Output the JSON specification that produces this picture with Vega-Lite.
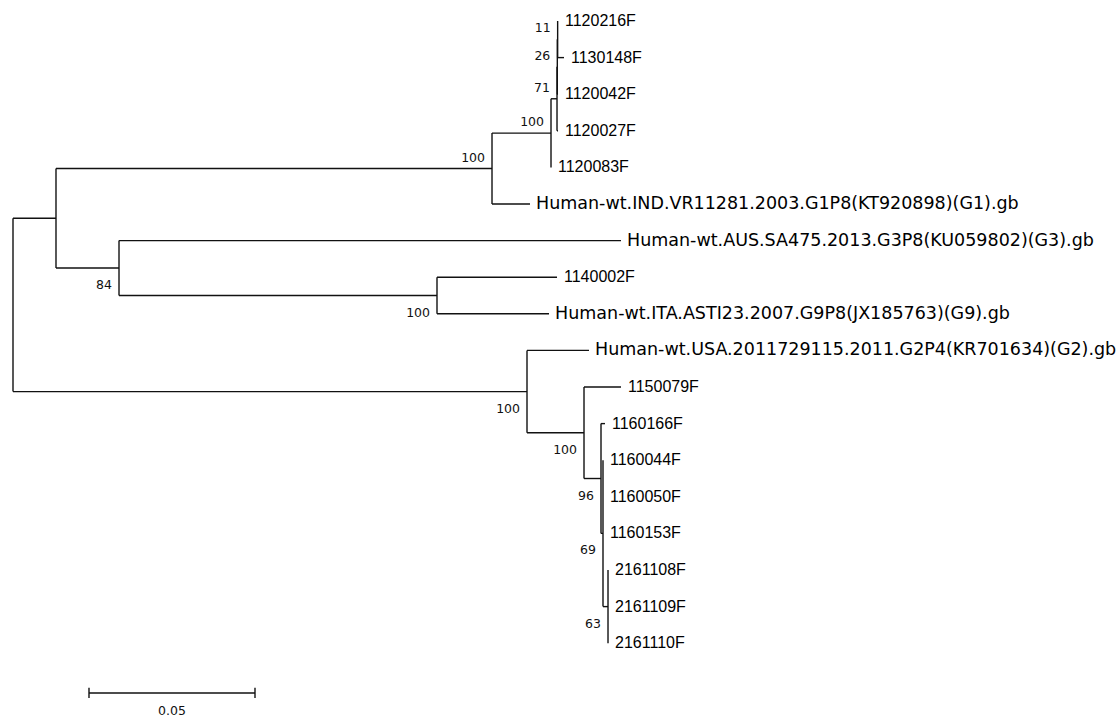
{
  "$schema": "https://vega.github.io/schema/vega-lite/v6.json",
  "width": 1119,
  "height": 717,
  "autosize": "none",
  "padding": 0,
  "background": "white",
  "config": {"view": {"stroke": null}},
  "datasets": {
    "edges": [
      {"x": 0, "x2": 0, "y": 5.39, "y2": 10.125},
      {"x": 0, "x2": 0.01295, "y": 5.39, "y2": 5.39},
      {"x": 0, "x2": 0.15482, "y": 10.125, "y2": 10.125},
      {"x": 0.01295, "x2": 0.01295, "y": 4.03, "y2": 6.75},
      {"x": 0.01295, "x2": 0.14428, "y": 4.03, "y2": 4.03},
      {"x": 0.01295, "x2": 0.03193, "y": 6.75, "y2": 6.75},
      {"x": 0.14428, "x2": 0.14428, "y": 3.0625, "y2": 5},
      {"x": 0.14428, "x2": 0.16205, "y": 3.0625, "y2": 3.0625},
      {"x": 0.14428, "x2": 0.15572, "y": 5, "y2": 5},
      {"x": 0.16205, "x2": 0.16205, "y": 2.125, "y2": 4},
      {"x": 0.16205, "x2": 0.16386, "y": 2.125, "y2": 2.125},
      {"x": 0.16386, "x2": 0.16386, "y": 1.25, "y2": 3},
      {"x": 0.16386, "x2": 0.16416, "y": 3, "y2": 3},
      {"x": 0.16395, "x2": 0.16395, "y": 0.5, "y2": 2},
      {"x": 0.16395, "x2": 0.16416, "y": 2, "y2": 2},
      {"x": 0.16405, "x2": 0.16405, "y": 0, "y2": 1},
      {"x": 0.16405, "x2": 0.16596, "y": 1, "y2": 1},
      {"x": 0.03193, "x2": 0.03193, "y": 6, "y2": 7.5},
      {"x": 0.03193, "x2": 0.18313, "y": 6, "y2": 6},
      {"x": 0.03193, "x2": 0.12771, "y": 7.5, "y2": 7.5},
      {"x": 0.12771, "x2": 0.12771, "y": 7, "y2": 8},
      {"x": 0.12771, "x2": 0.16386, "y": 7, "y2": 7},
      {"x": 0.12771, "x2": 0.16145, "y": 8, "y2": 8},
      {"x": 0.15482, "x2": 0.15482, "y": 9, "y2": 11.25},
      {"x": 0.15482, "x2": 0.17349, "y": 9, "y2": 9},
      {"x": 0.15482, "x2": 0.17199, "y": 11.25, "y2": 11.25},
      {"x": 0.17199, "x2": 0.17199, "y": 10, "y2": 12.5},
      {"x": 0.17199, "x2": 0.18313, "y": 10, "y2": 10},
      {"x": 0.17199, "x2": 0.17711, "y": 12.5, "y2": 12.5},
      {"x": 0.17711, "x2": 0.17711, "y": 11, "y2": 14},
      {"x": 0.17711, "x2": 0.17831, "y": 11, "y2": 11},
      {"x": 0.17711, "x2": 0.17771, "y": 14, "y2": 14},
      {"x": 0.17771, "x2": 0.17771, "y": 12, "y2": 16},
      {"x": 0.17771, "x2": 0.17922, "y": 16, "y2": 16},
      {"x": 0.17922, "x2": 0.17922, "y": 15, "y2": 17}
    ],
    "leaves": [
      {"name": "1120216F", "x": 0.16416, "y": 0},
      {"name": "1130148F", "x": 0.16596, "y": 1},
      {"name": "1120042F", "x": 0.16416, "y": 2},
      {"name": "1120027F", "x": 0.16416, "y": 3},
      {"name": "1120083F", "x": 0.16205, "y": 4},
      {"name": "Human-wt.IND.VR11281.2003.G1P8(KT920898)(G1).gb", "x": 0.15572, "y": 5},
      {"name": "Human-wt.AUS.SA475.2013.G3P8(KU059802)(G3).gb", "x": 0.18313, "y": 6},
      {"name": "1140002F", "x": 0.16386, "y": 7},
      {"name": "Human-wt.ITA.ASTI23.2007.G9P8(JX185763)(G9).gb", "x": 0.16145, "y": 8},
      {"name": "Human-wt.USA.2011729115.2011.G2P4(KR701634)(G2).gb", "x": 0.17349, "y": 9},
      {"name": "1150079F", "x": 0.18313, "y": 10},
      {"name": "1160166F", "x": 0.17831, "y": 11},
      {"name": "1160044F", "x": 0.17771, "y": 12},
      {"name": "1160050F", "x": 0.17771, "y": 13},
      {"name": "1160153F", "x": 0.17771, "y": 14},
      {"name": "2161108F", "x": 0.17922, "y": 15},
      {"name": "2161109F", "x": 0.17922, "y": 16},
      {"name": "2161110F", "x": 0.17922, "y": 17}
    ],
    "support": [
      {"value": "11", "x": 0.16405, "y": 0.5, "side": "above"},
      {"value": "26", "x": 0.16395, "y": 1.25, "side": "above"},
      {"value": "71", "x": 0.16386, "y": 2.125, "side": "above"},
      {"value": "100", "x": 0.16205, "y": 3.0625, "side": "above"},
      {"value": "100", "x": 0.14428, "y": 4.03, "side": "above"},
      {"value": "84", "x": 0.03193, "y": 6.75, "side": "below"},
      {"value": "100", "x": 0.12771, "y": 7.5, "side": "below"},
      {"value": "100", "x": 0.15482, "y": 10.125, "side": "below"},
      {"value": "100", "x": 0.17199, "y": 11.25, "side": "below"},
      {"value": "96", "x": 0.17711, "y": 12.5, "side": "below"},
      {"value": "69", "x": 0.17771, "y": 14, "side": "below"},
      {"value": "63", "x": 0.17922, "y": 16, "side": "below"}
    ],
    "scalebar": [
      {"x": 0.02289, "x2": 0.07289, "y": 18.36, "y2": 18.36},
      {"x": 0.02289, "x2": 0.02289, "y": 18.22, "y2": 18.5},
      {"x": 0.07289, "x2": 0.07289, "y": 18.22, "y2": 18.5}
    ],
    "scalelabel": [
      {"label": "0.05", "x": 0.04789, "y": 18.85}
    ]
  },
  "layer": [
    {
      "data": {"name": "edges"},
      "mark": {"type": "rule", "color": "#111111", "strokeWidth": 1.4},
      "encoding": {
        "x": {"field": "x", "type": "quantitative", "scale": {"domain": [-0.0039157, 0.333133], "nice": false, "zero": false}, "axis": null},
        "x2": {"field": "x2"},
        "y": {"field": "y", "type": "quantitative", "scale": {"domain": [-0.5738, 19.016], "nice": false, "zero": false, "reverse": true}, "axis": null},
        "y2": {"field": "y2"}
      }
    },
    {
      "data": {"name": "scalebar"},
      "mark": {"type": "rule", "color": "#111111", "strokeWidth": 1.4},
      "encoding": {
        "x": {"field": "x", "type": "quantitative"},
        "x2": {"field": "x2"},
        "y": {"field": "y", "type": "quantitative"},
        "y2": {"field": "y2"}
      }
    },
    {
      "data": {"name": "leaves"},
      "transform": [{"filter": "indexof(datum.name, 'Human') < 0"}],
      "mark": {"type": "text", "align": "left", "baseline": "middle", "dx": 7, "font": "Liberation Sans", "fontSize": 16, "color": "#000000"},
      "encoding": {
        "x": {"field": "x", "type": "quantitative"},
        "y": {"field": "y", "type": "quantitative"},
        "text": {"field": "name"}
      }
    },
    {
      "data": {"name": "leaves"},
      "transform": [{"filter": "indexof(datum.name, 'Human') >= 0"}],
      "mark": {"type": "text", "align": "left", "baseline": "middle", "dx": 6, "font": "DejaVu Sans", "fontSize": 17.5, "color": "#000000"},
      "encoding": {
        "x": {"field": "x", "type": "quantitative"},
        "y": {"field": "y", "type": "quantitative"},
        "text": {"field": "name"}
      }
    },
    {
      "data": {"name": "support"},
      "transform": [{"filter": "datum.side === 'above'"}],
      "mark": {"type": "text", "align": "right", "baseline": "middle", "dx": -7, "dy": -11, "font": "DejaVu Sans", "fontSize": 12.5, "color": "#111111"},
      "encoding": {
        "x": {"field": "x", "type": "quantitative"},
        "y": {"field": "y", "type": "quantitative"},
        "text": {"field": "value"}
      }
    },
    {
      "data": {"name": "support"},
      "transform": [{"filter": "datum.side === 'below'"}],
      "mark": {"type": "text", "align": "right", "baseline": "middle", "dx": -7, "dy": 17, "font": "DejaVu Sans", "fontSize": 12.5, "color": "#111111"},
      "encoding": {
        "x": {"field": "x", "type": "quantitative"},
        "y": {"field": "y", "type": "quantitative"},
        "text": {"field": "value"}
      }
    },
    {
      "data": {"name": "scalelabel"},
      "mark": {"type": "text", "align": "center", "baseline": "middle", "font": "DejaVu Sans", "fontSize": 12.5, "color": "#111111"},
      "encoding": {
        "x": {"field": "x", "type": "quantitative"},
        "y": {"field": "y", "type": "quantitative"},
        "text": {"field": "label"}
      }
    }
  ]
}
